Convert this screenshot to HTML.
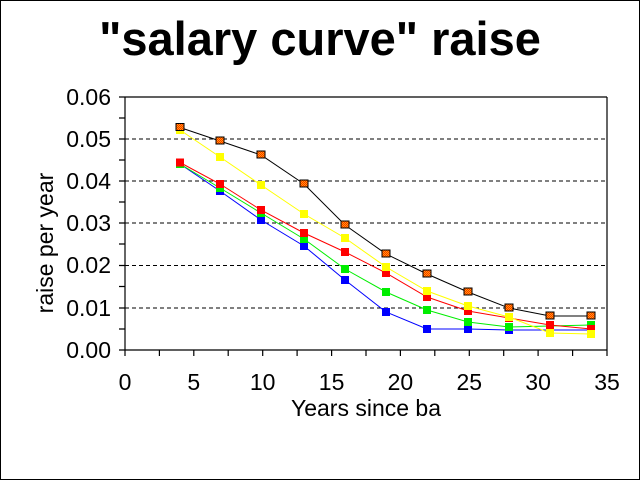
<!DOCTYPE html>
<html><head><meta charset="utf-8"><style>
html,body{margin:0;padding:0;background:#fff;}
</style></head><body>
<svg width="640" height="480" xmlns="http://www.w3.org/2000/svg" font-family="Liberation Sans, Arial, sans-serif">
<defs>
<pattern id="chk" width="2" height="2" patternUnits="userSpaceOnUse">
<rect width="2" height="2" fill="#ffb000"/><rect width="1" height="1" fill="#ff2000"/><rect x="1" y="1" width="1" height="1" fill="#ff2000"/>
</pattern>
</defs>
<rect x="0.5" y="0.5" width="639" height="479" fill="#fff" stroke="#000"/>
<text x="320" y="55" font-size="47" font-weight="bold" text-anchor="middle">"salary curve" raise</text>
<g stroke="#000" stroke-dasharray="4,3" stroke-width="1">
<line x1="125" y1="308" x2="607" y2="308"/>
<line x1="125" y1="265.5" x2="607" y2="265.5"/>
<line x1="125" y1="223" x2="607" y2="223"/>
<line x1="125" y1="181" x2="607" y2="181"/>
<line x1="125" y1="139" x2="607" y2="139"/>
</g>
<g stroke="#000" stroke-width="1.2" fill="none">
<line x1="125" y1="97" x2="607" y2="97"/>
<line x1="125" y1="97" x2="125" y2="350"/>
<line x1="607" y1="97" x2="607" y2="350"/>
<line x1="125" y1="350" x2="607" y2="350"/>
<path d="M119 97h6M119 118h6M119 139h6M119 160h6M119 181h6M119 202h6M119 223h6M119 244h6M119 265.5h6M119 286.5h6M119 308h6M119 329h6M119 350h6"/>
<path d="M125 350v6M159.4 350v6M193.8 350v6M228.2 350v6M262.7 350v6M297.1 350v6M331.6 350v6M366 350v6M400.4 350v6M434.8 350v6M469.3 350v6M503.7 350v6M538.1 350v6M572.6 350v6M607 350v6"/>
</g>
<g font-size="23" text-anchor="end">
<text x="111" y="105">0.06</text><text x="111" y="147">0.05</text><text x="111" y="189">0.04</text>
<text x="111" y="231">0.03</text><text x="111" y="273">0.02</text><text x="111" y="316">0.01</text><text x="111" y="358">0.00</text>
</g>
<g font-size="23" text-anchor="middle">
<text x="125" y="390">0</text><text x="193.8" y="390">5</text><text x="262.7" y="390">10</text><text x="331.6" y="390">15</text>
<text x="400.4" y="390">20</text><text x="469.3" y="390">25</text><text x="538.1" y="390">30</text><text x="607" y="390">35</text>
<text x="366" y="416">Years since ba</text>
<text transform="translate(53,243) rotate(-90)">raise per year</text>
</g>
<g fill="none" stroke-width="1">
<polyline stroke="#0000ff" points="180,164 220,191 261,220 304,246 345,280 386,312 427,329 468,329 509,330 550,330 591,330"/>
<polyline stroke="#00ee00" points="180,164 220,188 261,213 304,239 345,269 386,292 427,310 468,322 509,327 550,326 591,325"/>
<polyline stroke="#ff0000" points="180,162.5 220,184 261,210 304,233 345,252 386,273 427,297 468,311 509,318 550,325 591,329"/>
<polyline stroke="#ffff00" points="180,130 220,157 261,185 304,214 345,238 386,267 427,291 468,306 509,317 550,333 591,334"/>
<polyline stroke="#000" points="180,127.5 220,141 261,155 304,184 345,225 386,254 427,274 468,292 509,308 550,316 591,316"/>
</g>
<g fill="#0000ff"><rect x="176" y="160" width="8" height="8"/><rect x="216" y="187" width="8" height="8"/><rect x="257" y="216" width="8" height="8"/><rect x="300" y="242" width="8" height="8"/><rect x="341" y="276" width="8" height="8"/><rect x="382" y="308" width="8" height="8"/><rect x="423" y="325" width="8" height="8"/><rect x="464" y="325" width="8" height="8"/><rect x="505" y="326" width="8" height="8"/><rect x="546" y="326" width="8" height="8"/><rect x="587" y="326" width="8" height="8"/></g>
<g fill="#00ee00"><rect x="176" y="160" width="8" height="8"/><rect x="216" y="184" width="8" height="8"/><rect x="257" y="209" width="8" height="8"/><rect x="300" y="235" width="8" height="8"/><rect x="341" y="265" width="8" height="8"/><rect x="382" y="288" width="8" height="8"/><rect x="423" y="306" width="8" height="8"/><rect x="464" y="318" width="8" height="8"/><rect x="505" y="323" width="8" height="8"/><rect x="546" y="322" width="8" height="8"/><rect x="587" y="321" width="8" height="8"/></g>
<g fill="#ff0000"><rect x="176" y="158.5" width="8" height="8"/><rect x="216" y="180" width="8" height="8"/><rect x="257" y="206" width="8" height="8"/><rect x="300" y="229" width="8" height="8"/><rect x="341" y="248" width="8" height="8"/><rect x="382" y="269" width="8" height="8"/><rect x="423" y="293" width="8" height="8"/><rect x="464" y="307" width="8" height="8"/><rect x="505" y="314" width="8" height="8"/><rect x="546" y="321" width="8" height="8"/><rect x="587" y="325" width="8" height="8"/></g>
<g fill="#ffff00"><rect x="176" y="126" width="8" height="8"/><rect x="216" y="153" width="8" height="8"/><rect x="257" y="181" width="8" height="8"/><rect x="300" y="210" width="8" height="8"/><rect x="341" y="234" width="8" height="8"/><rect x="382" y="263" width="8" height="8"/><rect x="423" y="287" width="8" height="8"/><rect x="464" y="302" width="8" height="8"/><rect x="505" y="313" width="8" height="8"/><rect x="546" y="329" width="8" height="8"/><rect x="587" y="330" width="8" height="8"/></g>
<g fill="url(#chk)" stroke="#000" stroke-width="1"><rect x="176" y="123.5" width="8" height="7"/><rect x="216" y="137" width="8" height="7"/><rect x="257" y="151" width="8" height="7"/><rect x="300" y="180" width="8" height="7"/><rect x="341" y="221" width="8" height="7"/><rect x="382" y="250" width="8" height="7"/><rect x="423" y="270" width="8" height="7"/><rect x="464" y="288" width="8" height="7"/><rect x="505" y="304" width="8" height="7"/><rect x="546" y="312" width="8" height="7"/><rect x="587" y="312" width="8" height="7"/></g>
</svg>
</body></html>
